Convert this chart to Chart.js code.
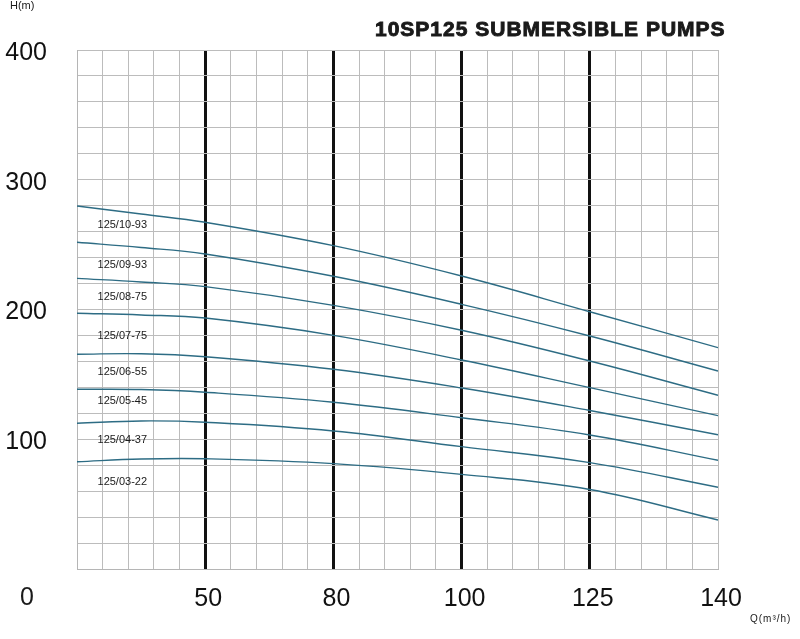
<!DOCTYPE html>
<html>
<head>
<meta charset="utf-8">
<script src="https://cdn.jsdelivr.net/npm/chart.js@4"></script>
<style>
  body { margin: 0; background: #fff; }
  #wrap { width: 800px; height: 639px; }
</style>
</head>
<body>
<div id="wrap"><canvas id="pumpChart" width="800" height="639"></canvas></div>
<script>
// flow tick marks on the (non-linear) Q axis, m3/h
const flowTicks = [0, 50, 80, 100, 125, 140];
const flowQ = [0, 25, 50, 80, 100, 125, 140];

const pumpModels = ['125/10-93', '125/09-93', '125/08-75', '125/07-75',
                    '125/06-55', '125/05-45', '125/04-37', '125/03-22'];

// head H (m) for each model at flowQ
const head10_93 = [279.8, 273.6, 267.2, 249.2, 225.8, 198.3, 170.6];
const head09_93 = [251.8, 247.8, 242.8, 225.6, 204.0, 179.6, 152.6];
const head08_75 = [224.0, 221.2, 217.6, 203.2, 184.0, 160.3, 133.9];
const head07_75 = [197.1, 195.8, 193.4, 180.1, 161.1, 139.8, 118.2];
const head06_55 = [165.5, 165.9, 163.6, 153.9, 139.5, 122.2, 103.5];
const head05_45 = [138.5, 138.3, 136.2, 128.5, 116.6, 103.3, 83.8];
const head04_37 = [112.3, 114.1, 113.1, 106.4, 94.3, 82.0, 63.0];
const head03_22 = [82.7, 84.8, 85.0, 81.2, 72.9, 61.3, 37.8];

const headSeries = [head10_93, head09_93, head08_75, head07_75,
                    head06_55, head05_45, head04_37, head03_22];

// where each model name sits (H, m) at the left of the plot
const labelHeads = [265.1, 234.3, 209.4, 179.6, 152.1, 129.5, 99.4, 67.3];
const labelQ = 8;

// map a flow onto the evenly spaced axis (one unit per tick interval)
function flowToPos(q) {
    for (let i = 0; i < flowTicks.length - 1; i++) {
        if (q <= flowTicks[i + 1]) {
            return i + (q - flowTicks[i]) / (flowTicks[i + 1] - flowTicks[i]);
        }
    }
    return flowTicks.length - 1;
}

const FONT = '"Liberation Sans", Arial, sans-serif';
const CURVE_COLOR = '#2d6c84';

const isWhole = v => Math.abs(v - Math.round(v)) < 1e-6;
const isThick = v => isWhole(v) && v > 0.5 && v < flowTicks.length - 1.5;

const textPlugin = {
    id: 'pumpText',
    afterDatasetsDraw(chart) {
        const c = chart.ctx;
        const xs = chart.scales.x, ys = chart.scales.y;
        c.save();
        c.fillStyle = '#1a1a1a';
        c.textBaseline = 'middle';
        c.textAlign = 'left';
        c.font = '11px ' + FONT;
        pumpModels.forEach((m, i) => {
            c.fillText(m, xs.getPixelForValue(flowToPos(labelQ)), ys.getPixelForValue(labelHeads[i]));
        });

        // heavy title
        c.font = 'bold 21px ' + FONT;
        c.letterSpacing = '1px';
        c.strokeStyle = '#1a1a1a';
        c.lineWidth = 0.9;
        c.fillText('10SP125 SUBMERSIBLE PUMPS', 375, 30);
        c.strokeText('10SP125 SUBMERSIBLE PUMPS', 375, 30);
        c.letterSpacing = '0px';

        c.font = '11px ' + FONT;
        c.fillText('H(m)', 10, 6);
        c.font = '10px ' + FONT;
        c.letterSpacing = '1px';
        c.fillText('Q(m\u00b3/h)', 750, 619);
        c.letterSpacing = '0px';

        c.font = '25px ' + FONT;
        c.textAlign = 'center';
        c.fillText('0', 27, 598);
        c.restore();
    }
};

const chartInstance = new Chart(document.getElementById('pumpChart'), {
    type: 'line',
    data: {
        datasets: headSeries.map((hs, i) => ({
            label: pumpModels[i],
            data: hs.map((h, j) => ({ x: flowToPos(flowQ[j]), y: h })),
            borderColor: CURVE_COLOR,
            borderWidth: 1.4,
            pointRadius: 0,
            fill: false,
            tension: 0.4
        }))
    },
    options: {
        responsive: false,
        animation: false,
        layout: { padding: { top: 50, right: 82, left: 0, bottom: 0 } },
        plugins: {
            legend: { display: false },
            tooltip: { enabled: false }
        },
        scales: {
            x: {
                type: 'linear',
                min: 0,
                max: flowTicks.length - 1,
                afterFit: axis => { axis.height = 70; },
                border: { color: '#b5b5b5', width: 1 },
                grid: {
                    drawTicks: false,
                    color: c => isThick(c.tick.value) ? '#111' : '#bcbcbc',
                    lineWidth: c => isThick(c.tick.value) ? 3 : 1
                },
                ticks: {
                    stepSize: 0.2,
                    autoSkip: false,
                    maxRotation: 0,
                    padding: 15,
                    labelOffset: 3,
                    color: '#111',
                    font: { family: FONT, size: 25 },
                    callback: v => (isWhole(v) && Math.round(v) > 0) ? String(flowTicks[Math.round(v)]) : ''
                }
            },
            y: {
                min: 0,
                max: 400,
                afterFit: axis => { axis.width = 77; },
                border: { color: '#b5b5b5', width: 1 },
                grid: { drawTicks: false, color: '#bcbcbc', lineWidth: 1 },
                ticks: {
                    stepSize: 20,
                    autoSkip: false,
                    padding: 30,
                    labelOffset: 3,
                    color: '#111',
                    font: { family: FONT, size: 25 },
                    callback: v => (v > 0 && v % 100 === 0) ? String(v) : ''
                }
            }
        }
    },
    plugins: [textPlugin]
});
</script>
</body>
</html>
